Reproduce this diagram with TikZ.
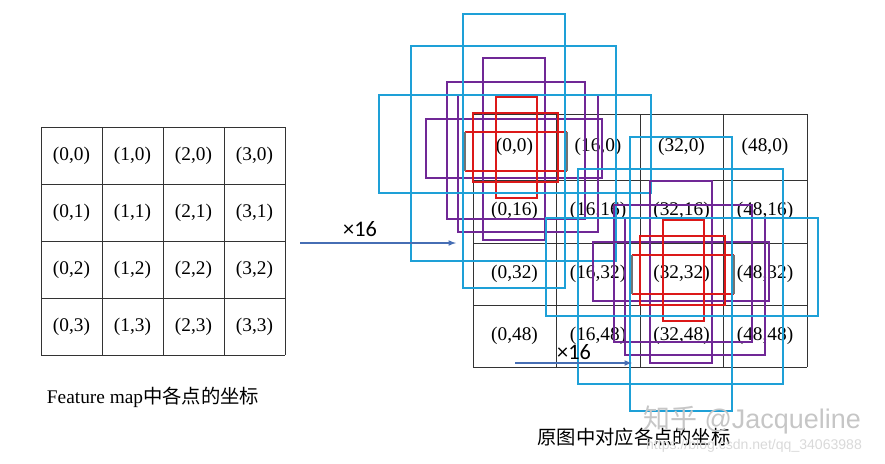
\documentclass[tikz,border=0pt]{standalone}
\usepackage{fontspec}
\setmainfont{Liberation Serif}
\newfontfamily\cjk{Noto Sans CJK SC}
\newfontfamily\lbl{Carlito}
\newfontfamily\wmk{Liberation Sans}
\usetikzlibrary{arrows.meta}
\definecolor{anccyan}{RGB}{30,160,215}
\definecolor{ancpurple}{RGB}{112,40,150}
\definecolor{ancred}{RGB}{220,25,25}
\definecolor{arrowblue}{RGB}{70,110,180}

% one set of nine anchors round a centre (pixel units)
\newcommand{\anchorset}[2]{%
  \begin{scope}[shift={(#1,#2)}]
    \draw[pbox] (-31,-92) rectangle (31,90);
    \draw[pbox] (-67,-68) rectangle (71,69);
    \draw[pbox] (-56,-55) rectangle (84,82);
    \draw[pbox] (-88,-31) rectangle (88,28);
    \draw[rbox] (-18,-53) rectangle (23,48);
    \draw[rbox] (-41,-37) rectangle (44,32);
    \draw[rbox] (-49,-18) -- (53,-18) (-49,21) -- (53,21);
    \draw[box, black!55] (-49,-18) -- (-49,21) (53,-18) -- (53,21);
    \draw[cbox] (-51,-136) rectangle (51,138);
    \draw[cbox] (-103,-104) rectangle (102,111);
    \draw[cbox] (-135,-55) rectangle (137,43);
  \end{scope}}

\begin{document}
\begin{tikzpicture}[x=0.03cm, y=-0.03cm, font=\fontsize{16.5}{19}\selectfont, >=latex,
    gridline/.style={black!80, line width=0.8pt},
    box/.style={line width=1.6pt},
    pbox/.style={box, ancpurple},
    rbox/.style={box, ancred},
    cbox/.style={box, anccyan},
    scale arrow/.style={->, arrowblue, line width=1.2pt},
    scale label/.style={font=\lbl\fontsize{19}{22}\selectfont, inner sep=0pt},
    mark text/.style={inner sep=0pt}]
    \useasboundingbox (0,0) rectangle (885,463);

    % feature map grid
    \foreach \i in {0,...,4} {
        \draw[gridline] ({41+61*\i},127) -- ({41+61*\i},355);
        \draw[gridline] (41,{127+57*\i}) -- (285,{127+57*\i});
    }
    \foreach \i in {0,...,3}
        \foreach \j in {0,...,3}
            \node (fm\i\j) at ({71.5+61*\i},{155.5+57*\j}) {(\i,\j)};
    \node (fmcap) at (153,397) {Feature map{\cjk 中各点的坐标}};

    % image grid
    \foreach \i in {0,...,4}
        \draw[gridline] ({473+83.5*\i},114) -- ({473+83.5*\i},367);
    \foreach \y in {114,180,243,305,367}
        \draw[gridline] (473,\y) -- (807,\y);
    \foreach \j/\yc in {0/147,1/211,2/274,3/336}
        \foreach \i in {0,...,3} {
            \pgfmathtruncatemacro{\px}{16*\i}
            \pgfmathtruncatemacro{\py}{16*\j}
            \node (im\i\j) at ({514.5+83.5*\i},\yc) {(\px,\py)};
        }
    \node (imcap) at (634,437) {\cjk 原图中对应各点的坐标};

    % anchors at (0,0) and (32,32)
    \anchorset{514}{150}
    \anchorset{681}{273}

    % x16 arrows
    \coordinate (a1s) at (300,243); \coordinate (a1e) at (456,243);
    \draw[scale arrow] (a1s) -- (a1e);
    \node[scale label] (a1l) at (360,229) {×16};
    \coordinate (a2s) at (515,363); \coordinate (a2e) at (632,363);
    \draw[scale arrow] (a2s) -- (a2e);
    \node[scale label] (a2l) at (574,352) {×16};

    % watermark
    \node[mark text, gray!45, font=\wmk\fontsize{23}{26}\selectfont] (wm1) at (752,420) {{\cjk 知乎} @Jacqueline};
    \node[mark text, gray!30, font=\wmk\fontsize{12}{14}\selectfont] (wm2) at (754,446) {https://blog.csdn.net/qq\_34063988};
\end{tikzpicture}
\end{document}
